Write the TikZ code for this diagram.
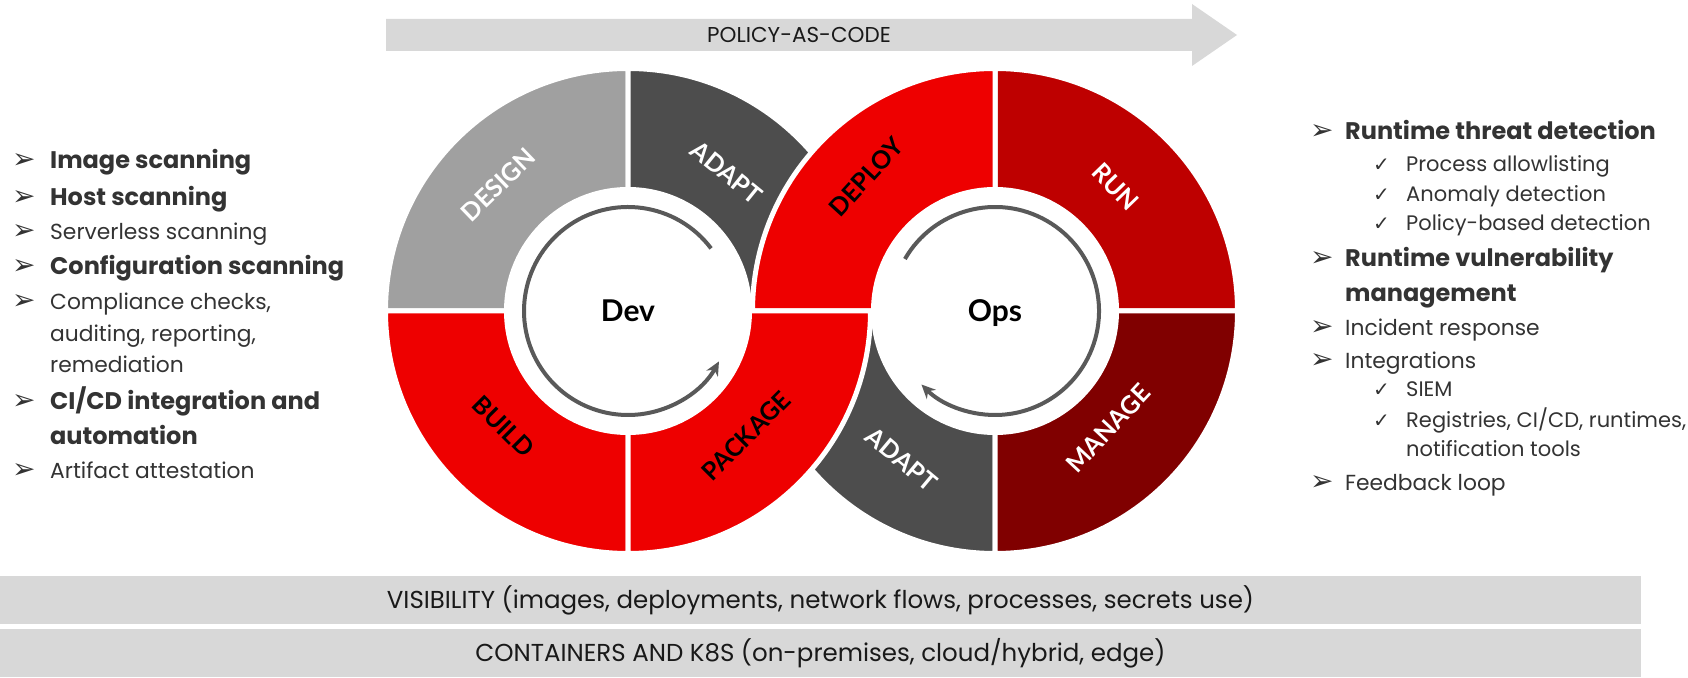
\documentclass[tikz,border=0pt]{standalone}
\usepackage{fontspec}
\setmainfont{Lato}
\newfontfamily\listfont{Poppins}
\newfontfamily\symfont{DejaVu Sans}
\usepackage{tikz}
\usetikzlibrary{arrows.meta,calc,positioning}
\usepackage{xcolor}
\definecolor{rhred}{HTML}{EE0000}
\definecolor{rundark}{HTML}{BE0000}
\definecolor{managedark}{HTML}{800000}
\definecolor{adaptgray}{HTML}{4D4D4D}
\definecolor{designgray}{HTML}{A0A0A0}
\definecolor{loopgray}{HTML}{595959}
\definecolor{bandgray}{HTML}{D8D8D8}
\definecolor{textgray}{HTML}{333333}

\tikzset{
  sector/.style={fill=#1, draw=white, line width=5pt},
  seglabel/.style={text=#1, inner sep=0pt, font=\bfseries\fontsize{25}{25}\selectfont},
  hub/.style={anchor=base, inner sep=0pt, font=\bfseries\fontsize{30}{30}\selectfont},
  loop/.style={draw=loopgray, line width=4pt, -{Stealth[length=14pt,width=13pt]}},
  band/.style={fill=bandgray, minimum width=1641pt, minimum height=48pt, inner sep=0pt, text=black!90, font=\listfont\fontsize{24.5}{24.5}\selectfont},
  bul/.style={anchor=base west, inner sep=0pt, text=textgray, font=\symfont\fontsize{28}{28}\selectfont},
  item/.style={anchor=base west, inner sep=0pt, align=left, text=textgray, font=\listfont\fontsize{21.8}{31.5}\selectfont},
  bolditem/.style={item, font=\listfont\bfseries\fontsize{24}{35}\selectfont},
  subitem/.style={item, font=\listfont\fontsize{21}{29}\selectfont}
}

\begin{document}
\begin{tikzpicture}[x=1pt,y=1pt]
    \useasboundingbox (0,0) rectangle (1688,677);
    \coordinate (devc) at (628,366);
    \coordinate (opsc) at (995,366);

    \fill[bandgray] (386,658) -- (1192,658) -- (1192,673) -- (1237,642) -- (1192,611) -- (1192,626) -- (386,626) -- cycle;
    \node[font=\listfont\fontsize{21.5}{21.5}\selectfont, text=black!90] (policy) at (799,642) {POLICY-AS-CODE};

    \foreach \c/\a/\col in {devc/90/designgray, devc/0/adaptgray, devc/180/rhred, opsc/180/adaptgray,
        opsc/0/rundark, opsc/270/managedark, opsc/90/rhred, devc/270/rhred}
      \path[sector=\col] ($(\c)+(\a:242.5)$) arc[start angle=\a, delta angle=90, radius=242.5]
        -- ($(\c)+(\a+90:121.5)$) arc[start angle=\a+90, delta angle=-90, radius=121.5] -- cycle;

    \foreach \n/\c/\la/\lr/\rot/\tc/\t in {design/devc/135.7/181/44/white/DESIGN, adaptdev/devc/54.5/170/-39/white/ADAPT,
        build/devc/222.9/170/-45/black/BUILD, package/devc/-46.6/172/45/black/PACKAGE,
        deploy/opsc/133.8/186/47.5/black/DEPLOY, run/opsc/45.9/173/-46/white/RUN,
        adaptops/opsc/237.8/175/-40/white/ADAPT, manage/opsc/-46/163/47/white/MANAGE}
      \node[seglabel=\tc, rotate=\rot] (\n) at ($(\c)+(\la:\lr)$) {\t};

    \node[hub] (dev) at ($(devc)+(0,-11)$) {Dev};
    \node[hub] (ops) at ($(opsc)+(0,-11)$) {Ops};
    \draw[loop] ($(devc)+(37:104)$) arc[start angle=37, end angle=331, radius=104];
    \draw[loop] ($(opsc)+(150:104)$) arc[start angle=150, end angle=-135, radius=104];

    \foreach \n/\y/\ty/\s/\t in {image/169/169/bolditem/{Image scanning}, host/206/206/bolditem/{Host scanning},
        serverless/240/240/item/{Serverless scanning}, config/275/275/bolditem/{Configuration scanning},
        compliance/310/373/item/{Compliance checks,\\auditing, reporting,\\remediation},
        cicd/410/445/bolditem/{CI/CD integration and\\automation}, artifact/479/479/item/{Artifact attestation}}
      {
      \node[bul] (\n-b) at (12,677-\y) {➢};
      \node[\s] (\n) at (50,677-\ty) {\t};
      }

    \foreach \n/\y/\ty/\s/\t in {threat/140/140/bolditem/{Runtime threat detection},
        vuln/267/302/bolditem/{Runtime vulnerability\\management}, incident/336/336/item/{Incident response},
        integrations/369/369/item/{Integrations}, feedback/491/491/item/{Feedback loop}}
      {
      \node[bul] (\n-b) at (1310,677-\y) {➢};
      \node[\s] (\n) at (1345,677-\ty) {\t};
      }

    \foreach \n/\y/\ty/\t in {allow/172/172/{Process allowlisting}, anomaly/202/202/{Anomaly detection},
        policybased/231/231/{Policy-based detection}, siem/397/397/{SIEM},
        registries/428/457/{Registries, CI/CD, runtimes,\\notification tools}}
      {
      \node[bul, font=\symfont\fontsize{20}{20}\selectfont] (\n-b) at (1373,677-\y) {✓};
      \node[subitem] (\n) at (1406,677-\ty) {\t};
      }

    \node[band] (visibility) at (820.5,77) {VISIBILITY (images, deployments, network flows, processes, secrets use)};
    \node[band] (containers) at (820.5,24) {CONTAINERS AND K8S (on-premises, cloud/hybrid, edge)};
\end{tikzpicture}
\end{document}
